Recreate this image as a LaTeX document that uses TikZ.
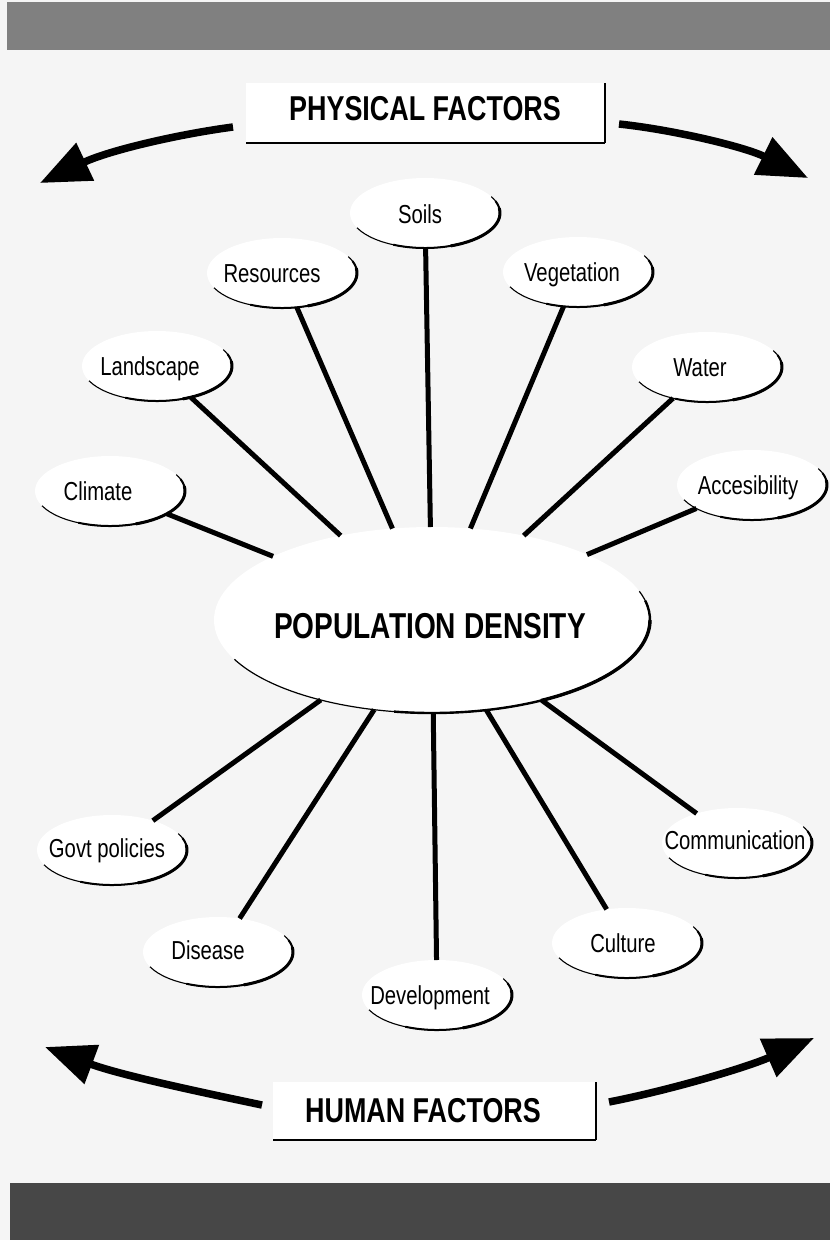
\documentclass[tikz,border=0pt]{standalone}
\usepackage{fontspec}
\newfontfamily\cond[FakeStretch=0.78]{Liberation Sans}
\usetikzlibrary{shapes.geometric,arrows.meta}
\newcommand\swoosh[3]{%
  \draw[line width=1.1pt] (#1.center) ++(155:#2 and #3) arc[start angle=155,end angle=-28,x radius=#2,y radius=#3];
  \draw[line width=2pt] (#1.center) ++(115:#2 and #3) arc[start angle=115,end angle=-20,x radius=#2,y radius=#3];
  \draw[line width=3pt] (#1.center) ++(70:#2 and #3) arc[start angle=70,end angle=-8,x radius=#2,y radius=#3];
}
\begin{document}
\begin{tikzpicture}[x=1pt,y=-1pt,
  leaf/.style={ellipse,minimum width=150pt,minimum height=70pt,inner sep=0pt,outer sep=0pt,fill=white},
  core/.style={ellipse,minimum width=436pt,minimum height=186pt,inner sep=0pt,outer sep=0pt,fill=white},
  leaftext/.style={font=\cond\fontsize{26}{28}\selectfont,inner sep=0pt,anchor=base},
  titletext/.style={font=\cond\bfseries\fontsize{34.5}{36}\selectfont,inner sep=0pt,anchor=base},
  coretext/.style={font=\cond\bfseries\fontsize{36}{38}\selectfont,inner sep=0pt,anchor=base},
  titlebox/.style={rectangle,fill=white,inner sep=0pt,outer sep=0pt},
  spoke/.style={line width=5pt},
  bigarrow/.style={line width=7.5pt,-{Triangle[length=50pt,width=40pt]}}]
\useasboundingbox (0,0) rectangle (830,1240);
% background and bars
\fill[black!4] (0,0) rectangle (830,1240);
\fill[black!50] (7,2) rectangle (830,50);
\fill[black!72] (10,1183) rectangle (830,1240);

% title boxes
\node[titlebox,minimum width=359pt,minimum height=60pt] (phys) at (425.5,113) {};
\node[titletext] (phys-t) at (425,120) {PHYSICAL FACTORS};
\draw[line width=2.5pt] (phys.south west) -- (phys.south east);
\draw[line width=1.8pt] (phys.south east) -- (phys.north east);

\node[titlebox,minimum width=323pt,minimum height=58pt] (human) at (434.5,1111) {};
\node[titletext] (human-t) at (423,1122) {HUMAN FACTORS};
\draw[line width=2.5pt] (human.south west) -- (human.south east);
\draw[line width=1.8pt] (human.south east) -- (human.north east);

% arrows
\coordinate (tl-s) at (233,127);
\coordinate (tl-e) at (40,183);
\coordinate (tr-s) at (619,124);
\coordinate (tr-e) at (808,178);
\coordinate (bl-s) at (262,1105);
\coordinate (bl-e) at (45,1047);
\coordinate (br-s) at (609,1102);
\coordinate (br-e) at (814,1038);
\draw[bigarrow] (tl-s) .. controls (180,134) and (110,150) .. (tl-e);
\draw[bigarrow] (tr-s) .. controls (675,130) and (745,147) .. (tr-e);
\draw[bigarrow] (bl-s) .. controls (200,1092) and (120,1075) .. (bl-e);
\draw[bigarrow] (br-s) .. controls (670,1090) and (745,1068) .. (br-e);

% central ellipse
\node[core] (pd) at (432,620) {};

% leaf ellipses
\node[leaf] (climate) at (110,491) {};
\node[leaf] (landscape) at (157,366) {};
\node[leaf] (resources) at (282,273) {};
\node[leaf] (soils) at (425,213) {};
\node[leaf] (vegetation) at (578,272) {};
\node[leaf] (water) at (707,367) {};
\node[leaf] (access) at (752,485) {};
\node[leaf] (govt) at (112,850) {};
\node[leaf] (disease) at (218,952) {};
\node[leaf] (develop) at (437,995) {};
\node[leaf] (culture) at (627,943) {};
\node[leaf] (comm) at (737,843) {};

% spokes
\foreach \n in {climate,landscape,resources,soils,vegetation,water,access,govt,disease,develop,culture,comm}
  \draw[spoke] (\n) -- (pd);

% arcs
\foreach \n in {climate,landscape,resources,soils,vegetation,water,access,govt,disease,develop,culture,comm}
  {\swoosh{\n}{75}{35}}
\draw[line width=1.2pt] (pd.center) ++(155:218 and 93) arc[start angle=155,end angle=-18,x radius=218,y radius=93];
\draw[line width=2.4pt] (pd.center) ++(100:218 and 93) arc[start angle=100,end angle=-12,x radius=218,y radius=93];
\draw[line width=3.4pt] (pd.center) ++(60:218 and 93) arc[start angle=60,end angle=0,x radius=218,y radius=93];

% texts
\node[coretext] (pd-t) at (430,638) {POPULATION DENSITY};
\node[leaftext] (climate-t) at (98,500) {Climate};
\node[leaftext] (landscape-t) at (150,375) {Landscape};
\node[leaftext] (resources-t) at (272,282) {Resources};
\node[leaftext] (soils-t) at (420,223) {Soils};
\node[leaftext] (vegetation-t) at (572,281) {Vegetation};
\node[leaftext] (water-t) at (700,376) {Water};
\node[leaftext] (access-t) at (748,494) {Accesibility};
\node[leaftext] (govt-t) at (107,857) {Govt policies};
\node[leaftext] (disease-t) at (208,959) {Disease};
\node[leaftext] (develop-t) at (430,1004) {Development};
\node[leaftext] (culture-t) at (623,952) {Culture};
\node[leaftext] (comm-t) at (735,849) {Communication};
\end{tikzpicture}
\end{document}
